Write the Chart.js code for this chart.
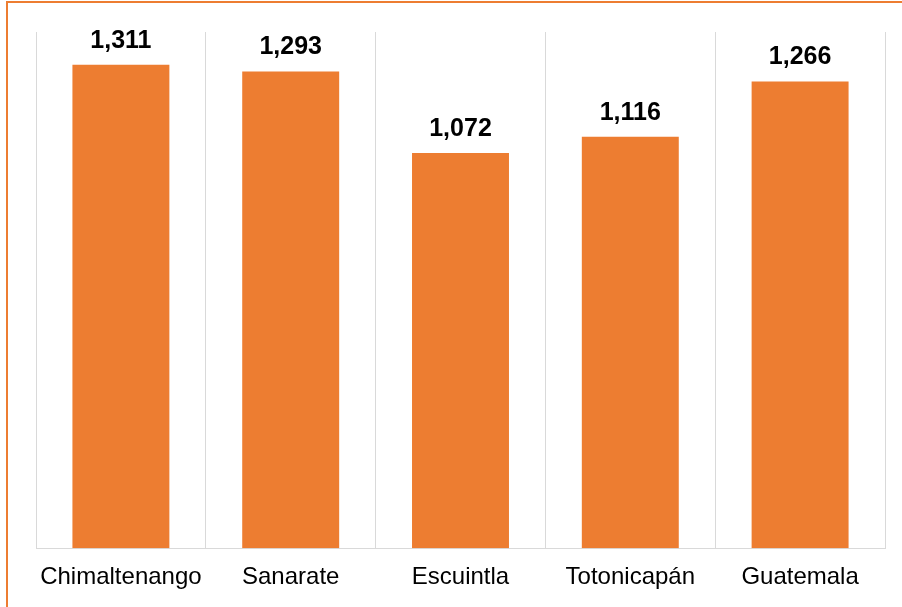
<!DOCTYPE html>
<html>
<head>
<meta charset="utf-8">
<script src="https://cdn.jsdelivr.net/npm/chart.js@4/dist/chart.umd.min.js"></script>
<style>
    html, body { margin: 0; padding: 0; background: #fff; overflow: hidden; }
    #frame {
        position: absolute; left: 6px; top: 1px;
        width: 2000px; height: 2000px;
        border: 2px solid #ED7D31;
    }
    #chart { position: absolute; left: 0; top: 0; }
</style>
</head>
<body>
<div id="frame"></div>
<canvas id="chart" width="902" height="607"></canvas>
<script>
// Data
const categories = ['Chimaltenango', 'Sanarate', 'Escuintla', 'Totonicapán', 'Guatemala'];
const values = [1311, 1293, 1072, 1116, 1266];

const FONT = "'Liberation Sans', Arial, sans-serif";

// draws the bold number above each bar
const valueLabels = {
    id: 'valueLabels',
    afterDatasetsDraw(chart) {
        const ctx = chart.ctx;
        const meta = chart.getDatasetMeta(0);
        ctx.save();
        ctx.font = 'bold 25px ' + FONT;
        ctx.fillStyle = '#000';
        ctx.textAlign = 'center';
        ctx.textBaseline = 'alphabetic';
        meta.data.forEach((bar, i) => {
            ctx.fillText(values[i].toLocaleString('en-US'), bar.x, bar.y - 17);
        });
        ctx.restore();
    }
};

new Chart(document.getElementById('chart'), {
    type: 'bar',
    data: {
        labels: categories,
        datasets: [{
            data: values,
            backgroundColor: '#ED7D31',
            borderWidth: 0,
            barPercentage: 0.571,
            categoryPercentage: 1
        }]
    },
    options: {
        responsive: false,
        animation: false,
        layout: { padding: { left: 36, right: 17, top: 32, bottom: 0 } },
        plugins: {
            legend: { display: false },
            tooltip: { enabled: false }
        },
        scales: {
            x: {
                grid: { color: '#D9D9D9', lineWidth: 1, drawTicks: false, offset: true },
                border: { color: '#D9D9D9', width: 1 },
                ticks: { color: '#000', font: { family: FONT, size: 24 }, padding: 15 }
            },
            y: {
                display: false,
                min: 0,
                max: 1400
            }
        }
    },
    plugins: [valueLabels]
});
</script>
</body>
</html>
